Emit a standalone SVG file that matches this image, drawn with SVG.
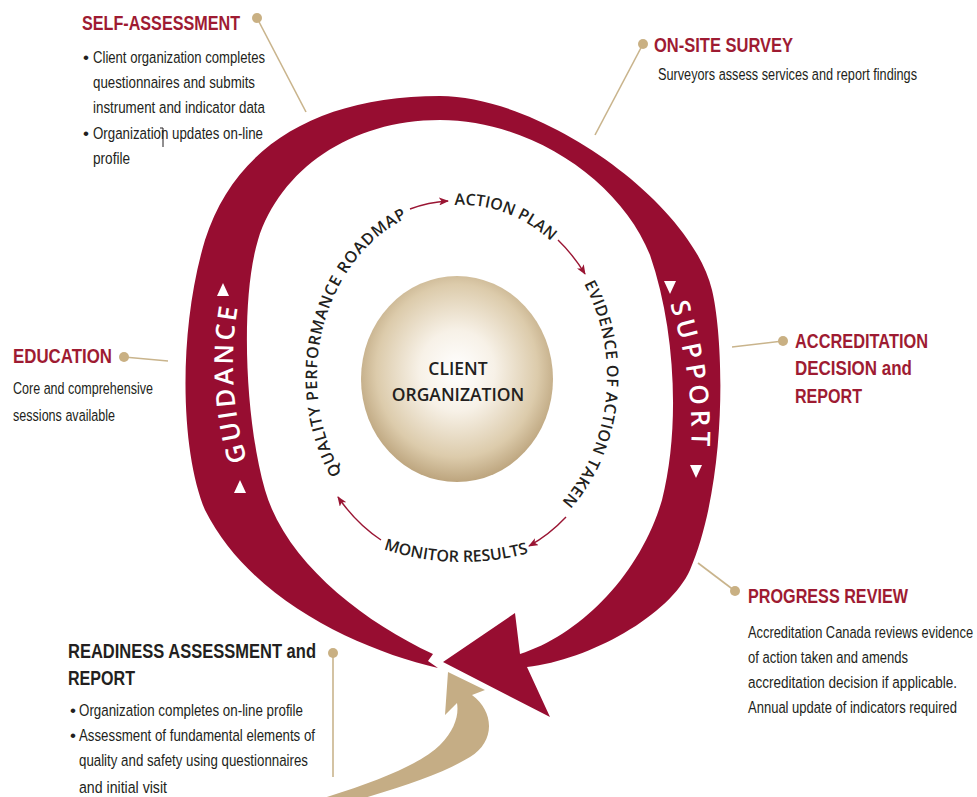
<svg xmlns="http://www.w3.org/2000/svg" width="977" height="797" viewBox="0 0 977 797">
  <defs>
    <style>
      .head { font-family: "Liberation Sans", Arial, sans-serif; font-weight: bold; font-size: 20px; fill: #9e1b32; }
      .head-dark { fill: #231f20; }
      .body { font-family: "Liberation Sans", Arial, sans-serif; font-size: 17px; fill: #231f20; }
      .ring { font-family: "Open Sans", "Liberation Sans", sans-serif; font-weight: 600; font-size: 16px; fill: #231f20; }
      .band { font-family: "Open Sans", "Liberation Sans", sans-serif; font-weight: 600; font-size: 26px; fill: #ffffff; }
      .core { font-family: "Open Sans", "Liberation Sans", sans-serif; font-weight: 600; font-size: 17.5px; fill: #231f20; text-anchor: middle; }
      .leader { stroke: #c9b48c; stroke-width: 1.6; fill: none; }
      .dot { fill: #c9b083; }
      .cycle { stroke: #9a1533; stroke-width: 1.4; fill: none; marker-end: url(#tip); }
    </style>
    <marker id="tip" markerUnits="userSpaceOnUse" markerWidth="10" markerHeight="8" refX="9" refY="4" orient="auto">
      <path d="M0,0 L10,4 L0,8 L2.5,4 Z" fill="#9a1533"/>
    </marker>
    <radialGradient id="sphere" cx="50%" cy="46%" r="56%">
      <stop offset="0" stop-color="#ffffff"/>
      <stop offset="0.35" stop-color="#f7f1e7"/>
      <stop offset="0.75" stop-color="#dccbab"/>
      <stop offset="1" stop-color="#b79e76"/>
    </radialGradient>
    <!-- paths the cycle labels run along -->
    <path id="p-action" d="M 456.9,205.1 A 145 172 0 0 1 549.3,239.6"/>
    <path id="p-evidence" d="M 583.6,283.3 A 145 172 0 0 1 560.9,502.8"/>
    <path id="p-quality" d="M 341.8,473.2 A 145 172 0 0 1 407.7,217.5"/>
    <path id="p-monitor" d="M 383,549 A 250 250 0 0 0 529,553"/>
    <path id="p-guidance" d="M 250,470 Q 222,385 240,295"/>
    <path id="p-support" d="M 665,290 Q 698,380 690,465"/>
  </defs>

  <rect width="977" height="797" fill="#ffffff"/>

  <!-- big maroon loop with arrowhead -->
  <g id="loop">
    <path fill="#970d31" d="M 438,668
      C 360,650 250,600 205,510
      C 180,450 178,330 205,240
      C 235,145 320,96 440,96
      C 540,96 690,200 712,290
      C 724,340 728,480 690,570
      C 670,615 590,660 527,667
      L 550,717 L 443,662 L 515,613 L 520,654
      C 580,635 640,575 662,500
      C 680,430 676,330 650,255
      C 620,180 530,120 440,120
      C 350,120 280,170 258,240
      C 240,300 245,420 265,490
      C 285,560 360,620 433,654
      L 428,661 Z"/>
    <text class="band" letter-spacing="3"><textPath href="#p-guidance" startOffset="50%" text-anchor="middle">GUIDANCE</textPath></text>
    <text class="band" letter-spacing="4.5"><textPath href="#p-support" startOffset="50%" text-anchor="middle">SUPPORT</textPath></text>
    <g fill="#ffffff">
      <polygon points="223,283 229,296 217,296"/>
      <polygon points="240,480 246,493 234,493"/>
      <polygon points="664,281 676,281 670,294"/>
      <polygon points="690,465 702,465 696,478"/>
    </g>
  </g>

  <!-- tan arrow rising into the loop -->
  <g id="readiness-arrow">
    <path fill="#c5ad85" d="M 448,672 L 485,690 L 472,695
      C 495,712 495,742 470,757
      C 440,775 400,788 340,805
      L 300,805
      C 370,785 420,765 440,745
      C 455,730 459,715 457,703
      L 445,715 Z"/>
  </g>

  <!-- client organization core -->
  <g id="client">
    <ellipse cx="457" cy="379" rx="96" ry="103" fill="url(#sphere)"/>
    <text class="core" x="458" y="375">CLIENT</text>
    <text class="core" x="458" y="401">ORGANIZATION</text>
  </g>

  <!-- improvement cycle labels -->
  <g id="action-plan"><text class="ring"><textPath href="#p-action" startOffset="50%" text-anchor="middle">ACTION PLAN</textPath></text></g>
  <g id="evidence"><text class="ring" letter-spacing="0.5"><textPath href="#p-evidence" startOffset="50%" text-anchor="middle">EVIDENCE OF ACTION TAKEN</textPath></text></g>
  <g id="monitor"><text class="ring"><textPath href="#p-monitor" startOffset="50%" text-anchor="middle">MONITOR RESULTS</textPath></text></g>
  <g id="roadmap">
    <text class="ring" letter-spacing="0.75"><textPath href="#p-quality" startOffset="0%" text-anchor="start">QUALITY PERFORMANCE</textPath></text>
    <text class="ring" letter-spacing="0.75"><textPath href="#p-quality" startOffset="100%" text-anchor="end">ROADMAP</textPath></text>
  </g>

  <!-- cycle connectors -->
  <g id="connectors">
    <path class="cycle" d="M 410,209 A 151 178 0 0 1 448,201"/>
    <path class="cycle" d="M 558,240 A 151 178 0 0 1 585,274"/>
    <path class="cycle" d="M 566,517 A 151 178 0 0 1 529,546"/>
    <path class="cycle" d="M 381,540 A 151 178 0 0 1 338,497"/>
  </g>

  <!-- callouts: condensed lettering is drawn by squeezing each line horizontally -->
  <g id="self-assessment">
    <line class="leader" x1="257" y1="18" x2="306" y2="112"/>
    <circle class="dot" cx="257" cy="18" r="5"/>
    <text class="head" transform="translate(82,30) scale(0.79,1)" textLength="200" lengthAdjust="spacingAndGlyphs">SELF-ASSESSMENT</text>
    <text class="body" x="83" y="63">•</text>
    <text class="body" transform="translate(93,63) scale(0.76,1)" textLength="226.3" lengthAdjust="spacingAndGlyphs">Client organization completes</text>
    <text class="body" transform="translate(93,88) scale(0.76,1)" textLength="213.2" lengthAdjust="spacingAndGlyphs">questionnaires and submits</text>
    <text class="body" transform="translate(93,113) scale(0.76,1)" textLength="226.3" lengthAdjust="spacingAndGlyphs">instrument and indicator data</text>
    <text class="body" x="83" y="139">•</text>
    <text class="body" transform="translate(93,139) scale(0.76,1)" textLength="223.7" lengthAdjust="spacingAndGlyphs">Organization updates on-line</text>
    <polyline points="160,128 163,128 163,147" fill="none" stroke="#231f20" stroke-width="1"/>
    <text class="body" transform="translate(93,164) scale(0.76,1)" textLength="48.7" lengthAdjust="spacingAndGlyphs">profile</text>
  </g>

  <g id="on-site-survey">
    <line class="leader" x1="643" y1="44" x2="595" y2="135"/>
    <circle class="dot" cx="643" cy="44" r="5"/>
    <text class="head" transform="translate(654,52) scale(0.79,1)" textLength="176" lengthAdjust="spacingAndGlyphs">ON-SITE SURVEY</text>
    <text class="body" transform="translate(658,80) scale(0.76,1)" textLength="340.8" lengthAdjust="spacingAndGlyphs">Surveyors assess services and report findings</text>
  </g>

  <g id="education">
    <line class="leader" x1="124" y1="357" x2="168" y2="361"/>
    <circle class="dot" cx="124" cy="357" r="5"/>
    <text class="head" transform="translate(13,363) scale(0.79,1)" textLength="125.3" lengthAdjust="spacingAndGlyphs">EDUCATION</text>
    <text class="body" transform="translate(13,394) scale(0.76,1)" textLength="184.2" lengthAdjust="spacingAndGlyphs">Core and comprehensive</text>
    <text class="body" transform="translate(13,421) scale(0.76,1)" textLength="134.2" lengthAdjust="spacingAndGlyphs">sessions available</text>
  </g>

  <g id="accreditation-decision">
    <line class="leader" x1="783" y1="341" x2="732" y2="347"/>
    <circle class="dot" cx="783" cy="341" r="5"/>
    <text class="head" transform="translate(795,348) scale(0.79,1)" textLength="168.4" lengthAdjust="spacingAndGlyphs">ACCREDITATION</text>
    <text class="head" transform="translate(795,375) scale(0.79,1)" textLength="148.1" lengthAdjust="spacingAndGlyphs">DECISION and</text>
    <text class="head" transform="translate(795,403) scale(0.79,1)" textLength="84.8" lengthAdjust="spacingAndGlyphs">REPORT</text>
  </g>

  <g id="progress-review">
    <line class="leader" x1="735" y1="591" x2="698" y2="563"/>
    <circle class="dot" cx="735" cy="591" r="5"/>
    <text class="head" transform="translate(748,603) scale(0.79,1)" textLength="202.5" lengthAdjust="spacingAndGlyphs">PROGRESS REVIEW</text>
    <text class="body" transform="translate(748,638) scale(0.76,1)" textLength="296.1" lengthAdjust="spacingAndGlyphs">Accreditation Canada reviews evidence</text>
    <text class="body" transform="translate(748,663) scale(0.76,1)" textLength="210.5" lengthAdjust="spacingAndGlyphs">of action taken and amends</text>
    <text class="body" transform="translate(748,688) scale(0.76,1)" textLength="275" lengthAdjust="spacingAndGlyphs">accreditation decision if applicable.</text>
    <text class="body" transform="translate(748,713) scale(0.76,1)" textLength="275" lengthAdjust="spacingAndGlyphs">Annual update of indicators required</text>
  </g>

  <g id="readiness-assessment">
    <line class="leader" x1="333" y1="653" x2="333" y2="777"/>
    <circle class="dot" cx="333" cy="653" r="5"/>
    <text class="head head-dark" transform="translate(68,658) scale(0.79,1)" textLength="313.9" lengthAdjust="spacingAndGlyphs">READINESS ASSESSMENT and</text>
    <text class="head head-dark" transform="translate(68,685) scale(0.79,1)" textLength="84.8" lengthAdjust="spacingAndGlyphs">REPORT</text>
    <text class="body" x="70" y="716">•</text>
    <text class="body" transform="translate(79,716) scale(0.76,1)" textLength="294.7" lengthAdjust="spacingAndGlyphs">Organization completes on-line profile</text>
    <text class="body" x="70" y="741">•</text>
    <text class="body" transform="translate(79,741) scale(0.76,1)" textLength="310.5" lengthAdjust="spacingAndGlyphs">Assessment of fundamental elements of</text>
    <text class="body" transform="translate(79,766) scale(0.76,1)" textLength="301.3" lengthAdjust="spacingAndGlyphs">quality and safety using questionnaires</text>
    <text class="body" transform="translate(79,793) scale(0.76,1)" textLength="115.8" lengthAdjust="spacingAndGlyphs">and initial visit</text>
  </g>
</svg>
